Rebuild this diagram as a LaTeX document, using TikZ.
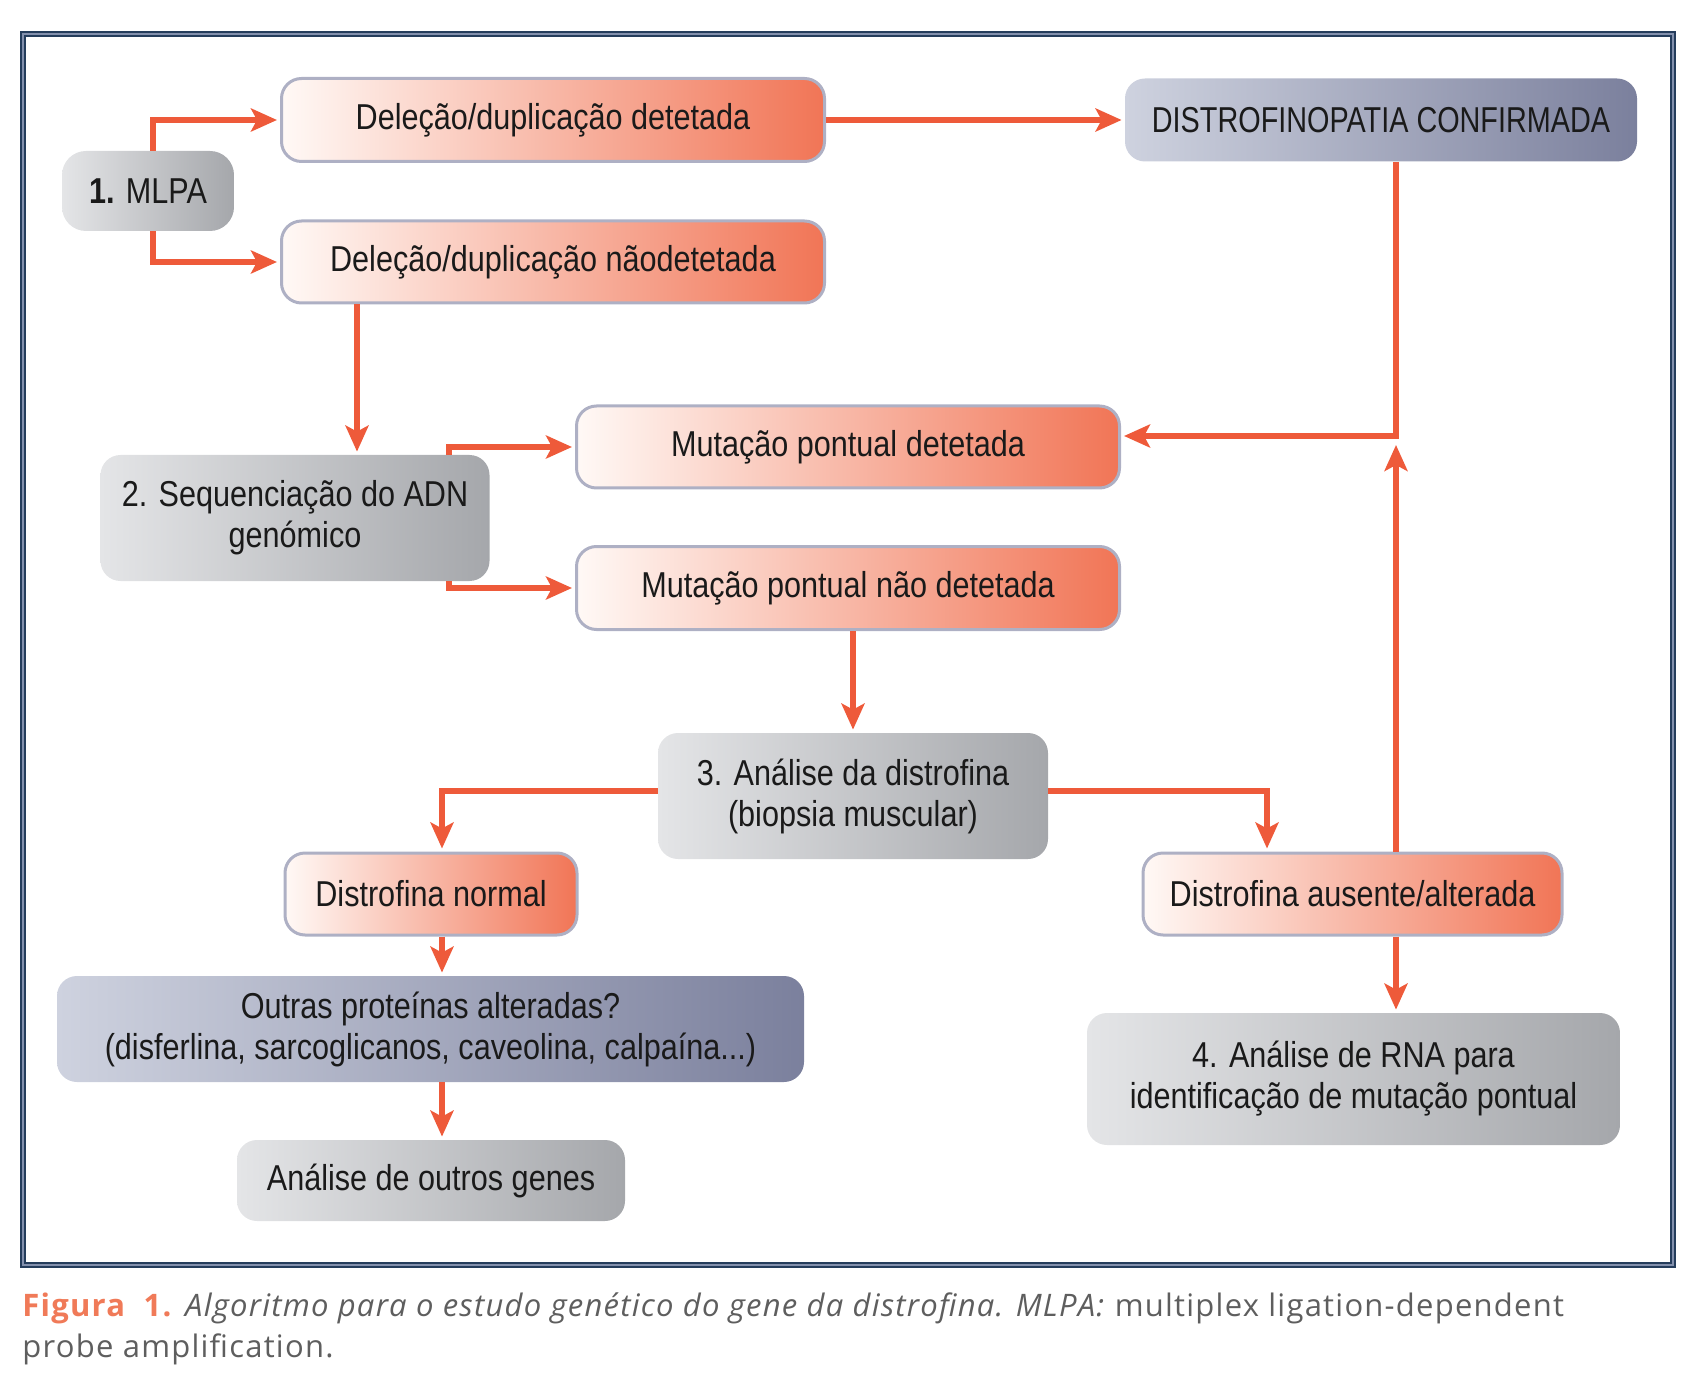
\documentclass[tikz,border=0pt]{standalone}
\usepackage{fontspec}
\setmainfont{Liberation Sans}
\newfontfamily\boxfont{Liberation Sans}[FakeStretch=0.85]
\newfontfamily\capsfont{Liberation Sans}[FakeStretch=0.80]
\newfontfamily\capfont{Open Sans}[LetterSpace=4]
\usetikzlibrary{arrows.meta,calc}
\definecolor{arrowc}{HTML}{EE5A3A}
\definecolor{orR}{HTML}{F17556}
\definecolor{orL}{HTML}{FFF9F6}
\definecolor{orB}{HTML}{AEB0C4}
\definecolor{grL}{HTML}{E4E5E7}
\definecolor{grR}{HTML}{A5A7AB}
\definecolor{blL}{HTML}{CED2DF}
\definecolor{blR}{HTML}{7B809D}
\definecolor{frameband}{HTML}{8390AD}
\definecolor{frameedge}{HTML}{253D5C}
\definecolor{capor}{HTML}{F07A58}
\definecolor{capgr}{HTML}{5E5E5E}
\definecolor{txt}{HTML}{1A1A1A}
\tikzset{
  box/.style={rounded corners=10pt, inner sep=0pt, align=center, text=txt,
    font=\boxfont\fontsize{18}{20.5}\selectfont},
  obox/.style={box, draw=orB, line width=1.5pt, left color=orL, right color=orR},
  gbox/.style={box, left color=grL, right color=grR},
  bbox/.style={box, left color=blL, right color=blR},
  arr/.style={draw=arrowc, line width=2.6pt,
    -{Stealth[length=13pt,width=11.5pt,inset=3pt,color=arrowc]}, shorten >=1.5pt}
}
\begin{document}
\begin{tikzpicture}[x=0.5pt,y=-0.5pt]
\useasboundingbox (0,0) rectangle (1701,1395);
% frame
\draw[frameband, line width=2pt] (23,34) rectangle (1673,1265);
\draw[frameedge, line width=0.6pt] (21,32) rectangle (1675,1267);
\draw[frameedge, line width=0.6pt] (25,36) rectangle (1671,1263);
% nodes
\node[gbox, rounded corners=12pt, minimum width=86pt, minimum height=40pt] (mlpa) at (148,191) {\textbf{1.} MLPA};
\node[obox, minimum width=271.5pt, minimum height=41.5pt] (d1) at (553,120) {Deleção/duplicação detetada};
\node[obox, minimum width=271.5pt, minimum height=41pt] (d2) at (553,262) {Deleção/duplicação nãodetetada};
\node[bbox, minimum width=256pt, minimum height=41.5pt, font=\capsfont\fontsize{18}{20.5}\selectfont] (conf) at (1381,120) {DISTROFINOPATIA CONFIRMADA};
\node[gbox, minimum width=194.5pt, minimum height=63pt] (seq) at (295,518) {2. Sequenciação do ADN\\genómico};
\node[obox, minimum width=271.5pt, minimum height=41pt] (m1) at (848,447) {Mutação pontual detetada};
\node[obox, minimum width=271.5pt, minimum height=41.5pt] (m2) at (848,588) {Mutação pontual não detetada};
\node[gbox, minimum width=195pt, minimum height=63pt] (ana) at (853,796) {3. Análise da distrofina\\(biopsia muscular)};
\node[obox, minimum width=146pt, minimum height=41pt] (dn) at (431,894) {Distrofina normal};
\node[obox, minimum width=209.5pt, minimum height=41pt] (da) at (1352.5,894) {Distrofina ausente/alterada};
\node[bbox, minimum width=373.5pt, minimum height=53pt] (out) at (430.5,1029) {Outras proteínas alteradas?\\(disferlina, sarcoglicanos, caveolina, calpaína...)};
\node[gbox, minimum width=194pt, minimum height=40.5pt] (gen) at (431,1180.5) {Análise de outros genes};
\node[gbox, minimum width=266.5pt, minimum height=66pt] (rna) at (1353.5,1079) {4. Análise de RNA para\\identificação de mutação pontual};
% helper coordinates
\coordinate (xa) at (153,0);
\coordinate (xb) at (357,0);
\coordinate (xs) at (449,0);
\coordinate (xm) at (853,0);
\coordinate (xl) at (442,0);
\coordinate (xr) at (1267,0);
\coordinate (j) at (1396,436);
\coordinate (j2) at (1396,445);
\coordinate (hy) at (0,791);
% connectors
\draw[arr] (xa |- mlpa.north) |- (d1.west);
\draw[arr] (xa |- mlpa.south) |- (d2.west);
\draw[arr] (d1.east) -- (conf.west);
\draw[arr] (j |- conf.south) -- (j) -- (m1.east |- j);
\draw[arr, shorten >=0pt] (j |- da.north) -- (j2);
\draw[arr] (xb |- d2.south) -- (xb |- seq.north);
\draw[arr] (xs |- seq.north) |- (m1.west);
\draw[arr] (xs |- seq.south) |- (m2.west);
\draw[arr] (xm |- m2.south) -- (xm |- ana.north);
\draw[arr] (ana.west |- hy) -| (xl |- dn.north);
\draw[arr] (ana.east |- hy) -| (xr |- da.north);
\draw[arr] (xl |- dn.south) -- (xl |- out.north);
\draw[arr] (xl |- out.south) -- (xl |- gen.north);
\draw[arr] (j |- da.south) -- (j |- rna.north);
% caption
\node[anchor=base west, inner sep=0pt, font=\capfont\fontsize{15.5}{20.5}\selectfont, text=capgr] (cap1) at (22,1316)
  {\textcolor{capor}{\textbf{Figura\ \ 1.}} \textit{Algoritmo para o estudo genético do gene da distrofina. MLPA:} multiplex ligation-dependent};
\node[anchor=base west, inner sep=0pt, font=\capfont\fontsize{15.5}{20.5}\selectfont, text=capgr] (cap2) at (22,1357)
  {probe amplification.};
\end{tikzpicture}
\end{document}
